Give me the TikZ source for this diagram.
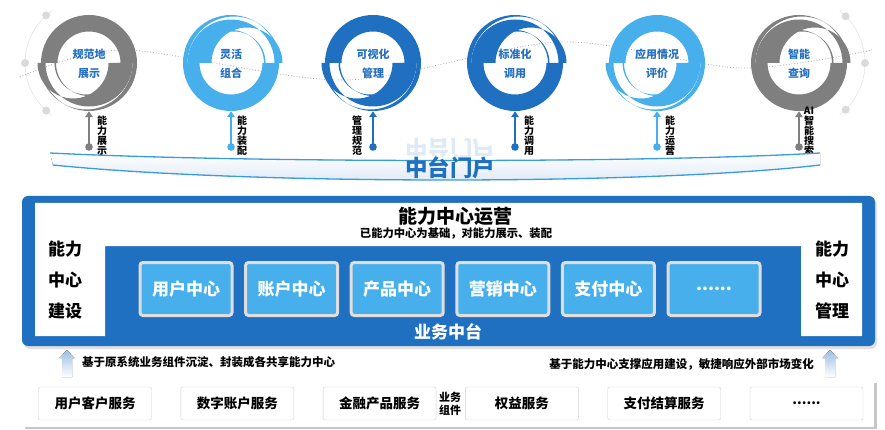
\documentclass[tikz,border=0pt]{standalone}
\usepackage{fontspec}
\setmainfont{Noto Sans CJK SC}
\usetikzlibrary{arrows.meta}
\definecolor{dkblue}{HTML}{1F70C1}
\definecolor{ltblue}{HTML}{46AFEC}
\definecolor{rgray}{HTML}{7F7F7F}
\definecolor{txtblue}{HTML}{2470C2}
\definecolor{dotgray}{HTML}{DADADA}
\newcommand{\moredots}{......}
\begin{document}
\begin{tikzpicture}[x=1pt,y=-1pt,
  ctext/.style={font=\fontsize{11}{19}\selectfont\bfseries, text=txtblue, align=center},
  vtext/.style={font=\fontsize{10}{10}\selectfont\bfseries, align=center, inner sep=0, anchor=south},
  cbox/.style={fill=ltblue, draw=black!13, line width=3, rounded corners=3, minimum width=92, minimum height=53, text=white, font=\fontsize{17}{17}\selectfont\bfseries},
  sbox/.style={fill=white, draw=black!18, rounded corners=2, minimum width=113, minimum height=33, font=\fontsize{13.5}{13.5}\selectfont\bfseries},
  sidetext/.style={font=\fontsize{17}{31}\selectfont\bfseries, align=center},
  note/.style={font=\fontsize{11.5}{11.5}\selectfont\bfseries, inner sep=0}]
\useasboundingbox (0,0) rectangle (885,430);
\draw[dotgray] (89,63) ++(125:64) arc[start angle=125, end angle=235, radius=64];
\foreach \a in {132,180,228} \fill[dotgray] (89,63) ++(\a:64) circle (4);
\draw[dotgray] (799,63) ++(-52:66) arc[start angle=-52, end angle=52, radius=66];
\foreach \a in {-45,0,45} \fill[dotgray] (799,63) ++(\a:66) circle (4);
\draw[black!35, dotted, line width=0.8] plot[smooth] coordinates {(20,77) (125,50) (345,80) (560,42) (740,68) (872,50)};
\foreach \i/\x/\c/\s/\dx/\t/\l [evaluate=\s as \p using \s+180] in
  {1/89/rgray/180/13/{规范地\\展示}/{能\\力\\展\\示},
   2/231/ltblue/0/11/{灵活\\组合}/{能\\力\\装\\配},
   3/373/dkblue/180/-16/{可视化\\管理}/{管\\理\\规\\范},
   4/515/dkblue/0/14/{标准化\\调用}/{能\\力\\调\\用},
   5/657/ltblue/180/13/{应用情况\\评价}/{能\\力\\运\\营},
   6/799/rgray/0/10/{智能\\查询}/{AI\\智\\能\\搜\\索}}
{\fill[\c] (\x,63) ++(\s:48) arc[start angle=\s, delta angle=180, radius=48] -- ++(\p:-16.5) arc[start angle=\p, delta angle=-180, radius=31.5] -- cycle;
 \foreach \a/\b in {46.5/48,35.5/43.5,31.5/33}
   \fill[\c] (\x,63) ++(\p:\b) arc[start angle=\p, delta angle=180, radius=\b] -- ++(\s:\b-\a) arc[start angle=\s, delta angle=-180, radius=\a] -- cycle;
 \node[circle, minimum size=96, inner sep=0] (c\i) at (\x,63) {};
 \node[ctext] (t\i) at (\x,64) {\t};
 \coordinate (d\i) at (\x,147);
 \fill[\c] (d\i) circle (3.8);
 \draw[\c, line width=2.2, -{Triangle[length=6,width=7.5]}] (d\i) -- (c\i.south);
 \node[vtext] (l\i) at (\x+\dx,156) {\l};}
\fill[top color=white, bottom color=dkblue!16] (50,153) .. controls (250,163) and (650,163) .. (820,153) -- (820,165) .. controls (650,185) and (250,185) .. (53,165) -- cycle;
\draw[ltblue!70!dkblue, line width=1.3] (50,153) .. controls (250,163) and (650,163) .. (820,153);
\draw[ltblue!70!dkblue, line width=1.3] (53,165) .. controls (250,185) and (650,185) .. (820,165);
\node[font=\fontsize{22.5}{22.5}\selectfont\bfseries, text=dkblue, opacity=.15, yscale=-1] (refl) at (450,149) {中台门户};
\node[font=\fontsize{22.5}{22.5}\selectfont\bfseries, text=dkblue] (portal) at (450,168) {中台门户};
\fill[black!12, rounded corners=6] (24,199) rectangle (877,349);
\fill[dkblue, rounded corners=6] (22,196) rectangle (875,346);
\fill[white] (35,203) -- (862,203) -- (862,336) -- (801,336) -- (801,246) -- (105,246) -- (105,336) -- (35,336) -- cycle;
\node[font=\fontsize{19}{19}\selectfont\bfseries] (title) at (455,216) {能力中心运营};
\node[font=\fontsize{11.3}{11.3}\selectfont\bfseries] (sub) at (456,234) {已能力中心为基础，对能力展示、装配};
\node[sidetext] (lbuild) at (65,280) {能力\\中心\\建设};
\node[sidetext] (lmanage) at (832,280) {能力\\中心\\管理};
\foreach \n [count=\k] in {用户中心,账户中心,产品中心,营销中心,支付中心,\moredots}
  \node[cbox] (m\k) at (80.4+105.6*\k,289) {\n};
\node[font=\fontsize{17}{17}\selectfont\bfseries, text=white] (biz) at (448,332) {业务中台};
\foreach \x in {67,830}
  \fill[top color=dkblue!45, bottom color=white] (\x-5,377) -- (\x-5,358) -- (\x-7.5,358) -- (\x,350) -- (\x+7.5,358) -- (\x+5,358) -- (\x+5,377) -- cycle;
\node[note, anchor=west] (n1) at (82,362) {基于原系统业务组件沉淀、封装成各共享能力中心};
\node[note, anchor=east] (n2) at (814,364) {基于能力中心支撑应用建设，敏捷响应外部市场变化};
\fill[black!22] (25,383) rectangle (877,429);
\fill[white] (23,381) rectangle (874,427);
\foreach \n [count=\k] in {用户客户服务,数字账户服务,金融产品服务,权益服务,支付结算服务,\moredots}
  \node[sbox] (s\k) at (-47.3+142.3*\k,403.5) {\n};
\node[font=\fontsize{11}{13}\selectfont\bfseries, align=center, inner sep=0] (comp) at (450,403.5) {业务\\组件};
\end{tikzpicture}
\end{document}
